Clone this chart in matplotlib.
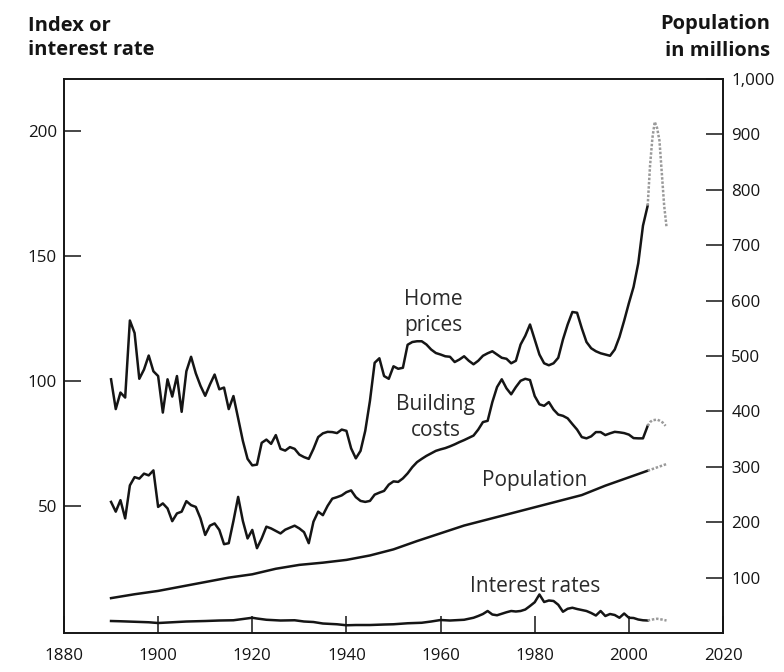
import matplotlib
matplotlib.use('Agg')
import matplotlib.pyplot as plt

# ---------------- data ----------------
years = list(range(1890, 2005))

home_prices = [
    100.6, 88.7, 95.3, 93.3, 124.1, 119.1, 100.8, 104.5, 110.1, 103.8,   # 1890s
    101.9, 87.3, 100.6, 93.7, 101.9, 87.6, 103.8, 109.6, 103.0, 98.0,    # 1900s
    94.0, 98.5, 102.5, 96.6, 97.3, 88.7, 93.9, 85.0, 76.0, 68.8,         # 1910s
    66.2, 66.5, 75.2, 76.5, 74.8, 78.3, 72.8, 72.1, 73.5, 72.8,          # 1920s
    70.5, 69.5, 68.8, 72.8, 77.5, 79.0, 79.6, 79.5, 79.1, 80.5,          # 1930s
    80.0, 73.0, 69.0, 72.0, 80.0, 92.0, 107.2, 109.0, 101.9, 100.8,      # 1940s
    105.8, 104.8, 105.2, 114.4, 115.5, 115.8, 115.8, 114.5, 112.5, 111.1,  # 1950s
    110.5, 109.8, 109.6, 107.5, 108.5, 109.8, 108.0, 106.6, 108.0, 110.0,  # 1960s
    111.0, 111.8, 110.5, 109.2, 108.8, 107.0, 108.0, 114.5, 118.0, 122.5,  # 1970s
    116.5, 110.5, 107.0, 106.2, 107.0, 109.2, 116.5, 122.5, 127.5, 127.2,  # 1980s
    121.0, 115.5, 113.0, 111.8, 111.0, 110.5, 110.0, 112.5, 117.5, 124.0,  # 1990s
    131.0, 137.5, 147.0, 162.0, 170.0,                                     # 2000s
]

building_costs = [
    51.6, 47.7, 52.3, 45.0, 58.2, 61.5, 60.9, 62.9, 62.2, 64.2,
    49.6, 51.0, 49.0, 43.9, 47.0, 47.7, 51.9, 50.3, 49.6, 45.0,
    38.4, 42.1, 43.0, 40.4, 34.7, 35.1, 44.0, 53.6, 44.0, 37.0,
    40.4, 33.1, 37.0, 41.7, 41.0, 40.0, 39.0, 40.5, 41.3, 42.1,
    41.0, 39.5, 35.1, 43.7, 47.7, 46.3, 50.0, 52.9, 53.5, 54.2,
    55.5, 56.2, 53.5, 52.0, 51.6, 52.0, 54.5, 55.3, 56.0, 58.5,
    59.8, 59.6, 61.0, 63.0, 65.5, 67.5, 68.8, 70.0, 71.0, 72.0,
    72.6, 73.1, 73.8, 74.6, 75.5, 76.3, 77.2, 78.1, 80.5, 83.5,
    84.0, 91.5, 97.5, 100.6, 97.0, 94.6, 97.5, 100.0, 100.8, 100.3,
    93.9, 90.6, 90.0, 91.5, 88.5, 86.5, 86.0, 85.0, 82.7, 80.5,
    77.5, 77.0, 77.8, 79.5, 79.5, 78.3, 79.0, 79.6, 79.4, 79.1,
    78.5, 77.1, 77.0, 77.0, 82.0,
]

interest_years = [1890, 1892, 1895, 1898, 1900, 1903, 1906, 1910, 1913, 1916,
                  1918, 1920, 1921, 1923, 1926, 1929, 1931, 1933, 1935, 1938,
                  1940, 1942, 1945, 1948, 1950, 1953, 1956, 1958, 1960, 1962,
                  1965, 1967, 1968, 1969, 1970, 1971, 1972, 1973, 1974, 1975,
                  1976, 1977, 1978, 1979, 1980, 1981, 1982, 1983, 1984, 1985,
                  1986, 1987, 1988, 1989, 1990, 1991, 1992, 1993, 1994, 1995,
                  1996, 1997, 1998, 1999, 2000, 2001, 2002, 2003, 2004]
interest_rates = [4.0, 3.9, 3.7, 3.5, 3.2, 3.5, 3.8, 4.0, 4.2, 4.3,
                  4.8, 5.3, 5.0, 4.5, 4.2, 4.3, 3.8, 3.6, 3.0, 2.7,
                  2.3, 2.4, 2.4, 2.6, 2.7, 3.1, 3.3, 3.8, 4.4, 4.2,
                  4.5, 5.3, 6.0, 6.8, 8.0, 6.6, 6.3, 6.9, 7.5, 8.0,
                  7.8, 8.0, 8.6, 10.0, 11.5, 14.6, 11.6, 12.2, 12.0, 10.5,
                  7.7, 8.9, 9.3, 8.8, 8.4, 8.0, 7.2, 6.2, 8.0, 6.0,
                  6.8, 6.4, 5.3, 7.0, 5.3, 5.2, 4.6, 4.3, 4.2]

pop_years = [1890, 1895, 1900, 1905, 1910, 1915, 1920, 1925, 1930, 1935,
             1940, 1945, 1950, 1955, 1960, 1965, 1970, 1975, 1980, 1985,
             1990, 1995, 2000, 2004]
population = [63, 70, 76, 84, 92, 100, 106, 116, 123, 127,
              132, 140, 151, 166, 180, 194, 205, 216, 227, 238,
              249, 266, 281, 293]

# recent (dotted, grey) extensions
home_recent_years = [2004.0, 2004.5, 2005.0, 2005.5, 2006.0, 2006.5, 2007.0, 2007.5, 2008.0]
home_recent = [170.0, 186.0, 197.0, 203.5, 201.0, 196.0, 183.0, 170.0, 161.5]
build_recent_years = [2004.0, 2004.5, 2005.0, 2006.0, 2006.6, 2007.2, 2007.8]
build_recent = [82.0, 83.5, 84.2, 84.5, 84.0, 83.3, 82.0]
rate_recent_years = [2004, 2005, 2006, 2007, 2008]
rate_recent = [4.2, 4.6, 4.9, 4.6, 4.2]
pop_recent_years = [2004, 2005, 2006, 2007, 2008]
pop_recent = [293, 296, 299, 302, 305]

x_ticks = [1880, 1900, 1920, 1940, 1960, 1980, 2000, 2020]
left_ticks = [50, 100, 150, 200]
right_ticks = [100, 200, 300, 400, 500, 600, 700, 800, 900, 1000]
right_labels = ['100', '200', '300', '400', '500', '600', '700', '800', '900', '1,000']

# ---------------- style ----------------
plt.rcParams['font.family'] = ['Open Sans', 'DejaVu Sans']
INK = '#151515'
GREY = '#9a9a9a'
LW = 1.8
TICK_FS = 12.2

fig = plt.figure(figsize=(7.84, 6.72), dpi=100)
fig.patch.set_facecolor('white')
ax = fig.add_axes([0.0816, 0.0580, 0.8406, 0.8244])
ax2 = ax.twinx()

ax.plot(years, home_prices, color=INK, lw=LW)
ax.plot(years, building_costs, color=INK, lw=LW)
ax.plot(interest_years, interest_rates, color=INK, lw=LW)
ax2.plot(pop_years, population, color=INK, lw=LW)

ax.plot(home_recent_years, home_recent, color=GREY, lw=LW, ls=(0, (1, 0.7)))
ax.plot(build_recent_years, build_recent, color=GREY, lw=LW, ls=(0, (1, 0.7)))
ax.plot(rate_recent_years, rate_recent, color=GREY, lw=LW, ls=(0, (1, 0.7)))
ax2.plot(pop_recent_years, pop_recent, color=GREY, lw=LW, ls=(0, (1, 0.7)))

ax.set_xlim(1880, 2020)
ax.set_ylim(-0.8, 220.6)
ax2.set_ylim(0, 1000)

ax.set_xticks(x_ticks)
ax.set_xticklabels([str(t) for t in x_ticks])
ax.set_yticks(left_ticks)
ax.set_yticklabels([str(t) for t in left_ticks])
ax2.set_yticks(right_ticks)
ax2.set_yticklabels(right_labels)

ax.tick_params(axis='x', direction='in', length=12.5, width=1.1, pad=11,
               labelsize=TICK_FS, colors=INK)
ax.tick_params(axis='y', direction='in', length=12.5, width=1.1, pad=5,
               labelsize=TICK_FS, colors=INK)
ax2.tick_params(axis='y', direction='in', length=12.5, width=1.1, pad=6,
                labelsize=TICK_FS, colors=INK)

for a in (ax, ax2):
    for s in a.spines.values():
        s.set_linewidth(1.2)
        s.set_color(INK)

# axis titles
W, H = 784, 672
def fx(px):
    return px / W
def fy(py):
    return 1 - py / H

fig.text(fx(28), fy(31), 'Index or', ha='left', va='baseline',
         fontsize=14.5, fontweight='bold', color=INK)
fig.text(fx(28), fy(55), 'interest rate', ha='left', va='baseline',
         fontsize=14.5, fontweight='bold', color=INK)
fig.text(fx(770), fy(29), 'Population', ha='right', va='baseline',
         fontsize=14.5, fontweight='bold', color=INK)
fig.text(fx(770), fy(56), 'in millions', ha='right', va='baseline',
         fontsize=14.5, fontweight='bold', color=INK)

# series labels
ANN_FS = 15
ANN_C = '#2a2a2a'
fig.text(fx(433), fy(305), 'Home', ha='center', va='baseline', fontsize=ANN_FS, color=ANN_C)
fig.text(fx(433), fy(331), 'prices', ha='center', va='baseline', fontsize=ANN_FS, color=ANN_C)
fig.text(fx(435), fy(410), 'Building', ha='center', va='baseline', fontsize=ANN_FS, color=ANN_C)
fig.text(fx(436), fy(436), 'costs', ha='center', va='baseline', fontsize=ANN_FS, color=ANN_C)
fig.text(fx(535), fy(486), 'Population', ha='center', va='baseline', fontsize=ANN_FS, color=ANN_C)
fig.text(fx(535), fy(592), 'Interest rates', ha='center', va='baseline', fontsize=ANN_FS, color=ANN_C)

fig.savefig('out.png', dpi=100, facecolor='white')
